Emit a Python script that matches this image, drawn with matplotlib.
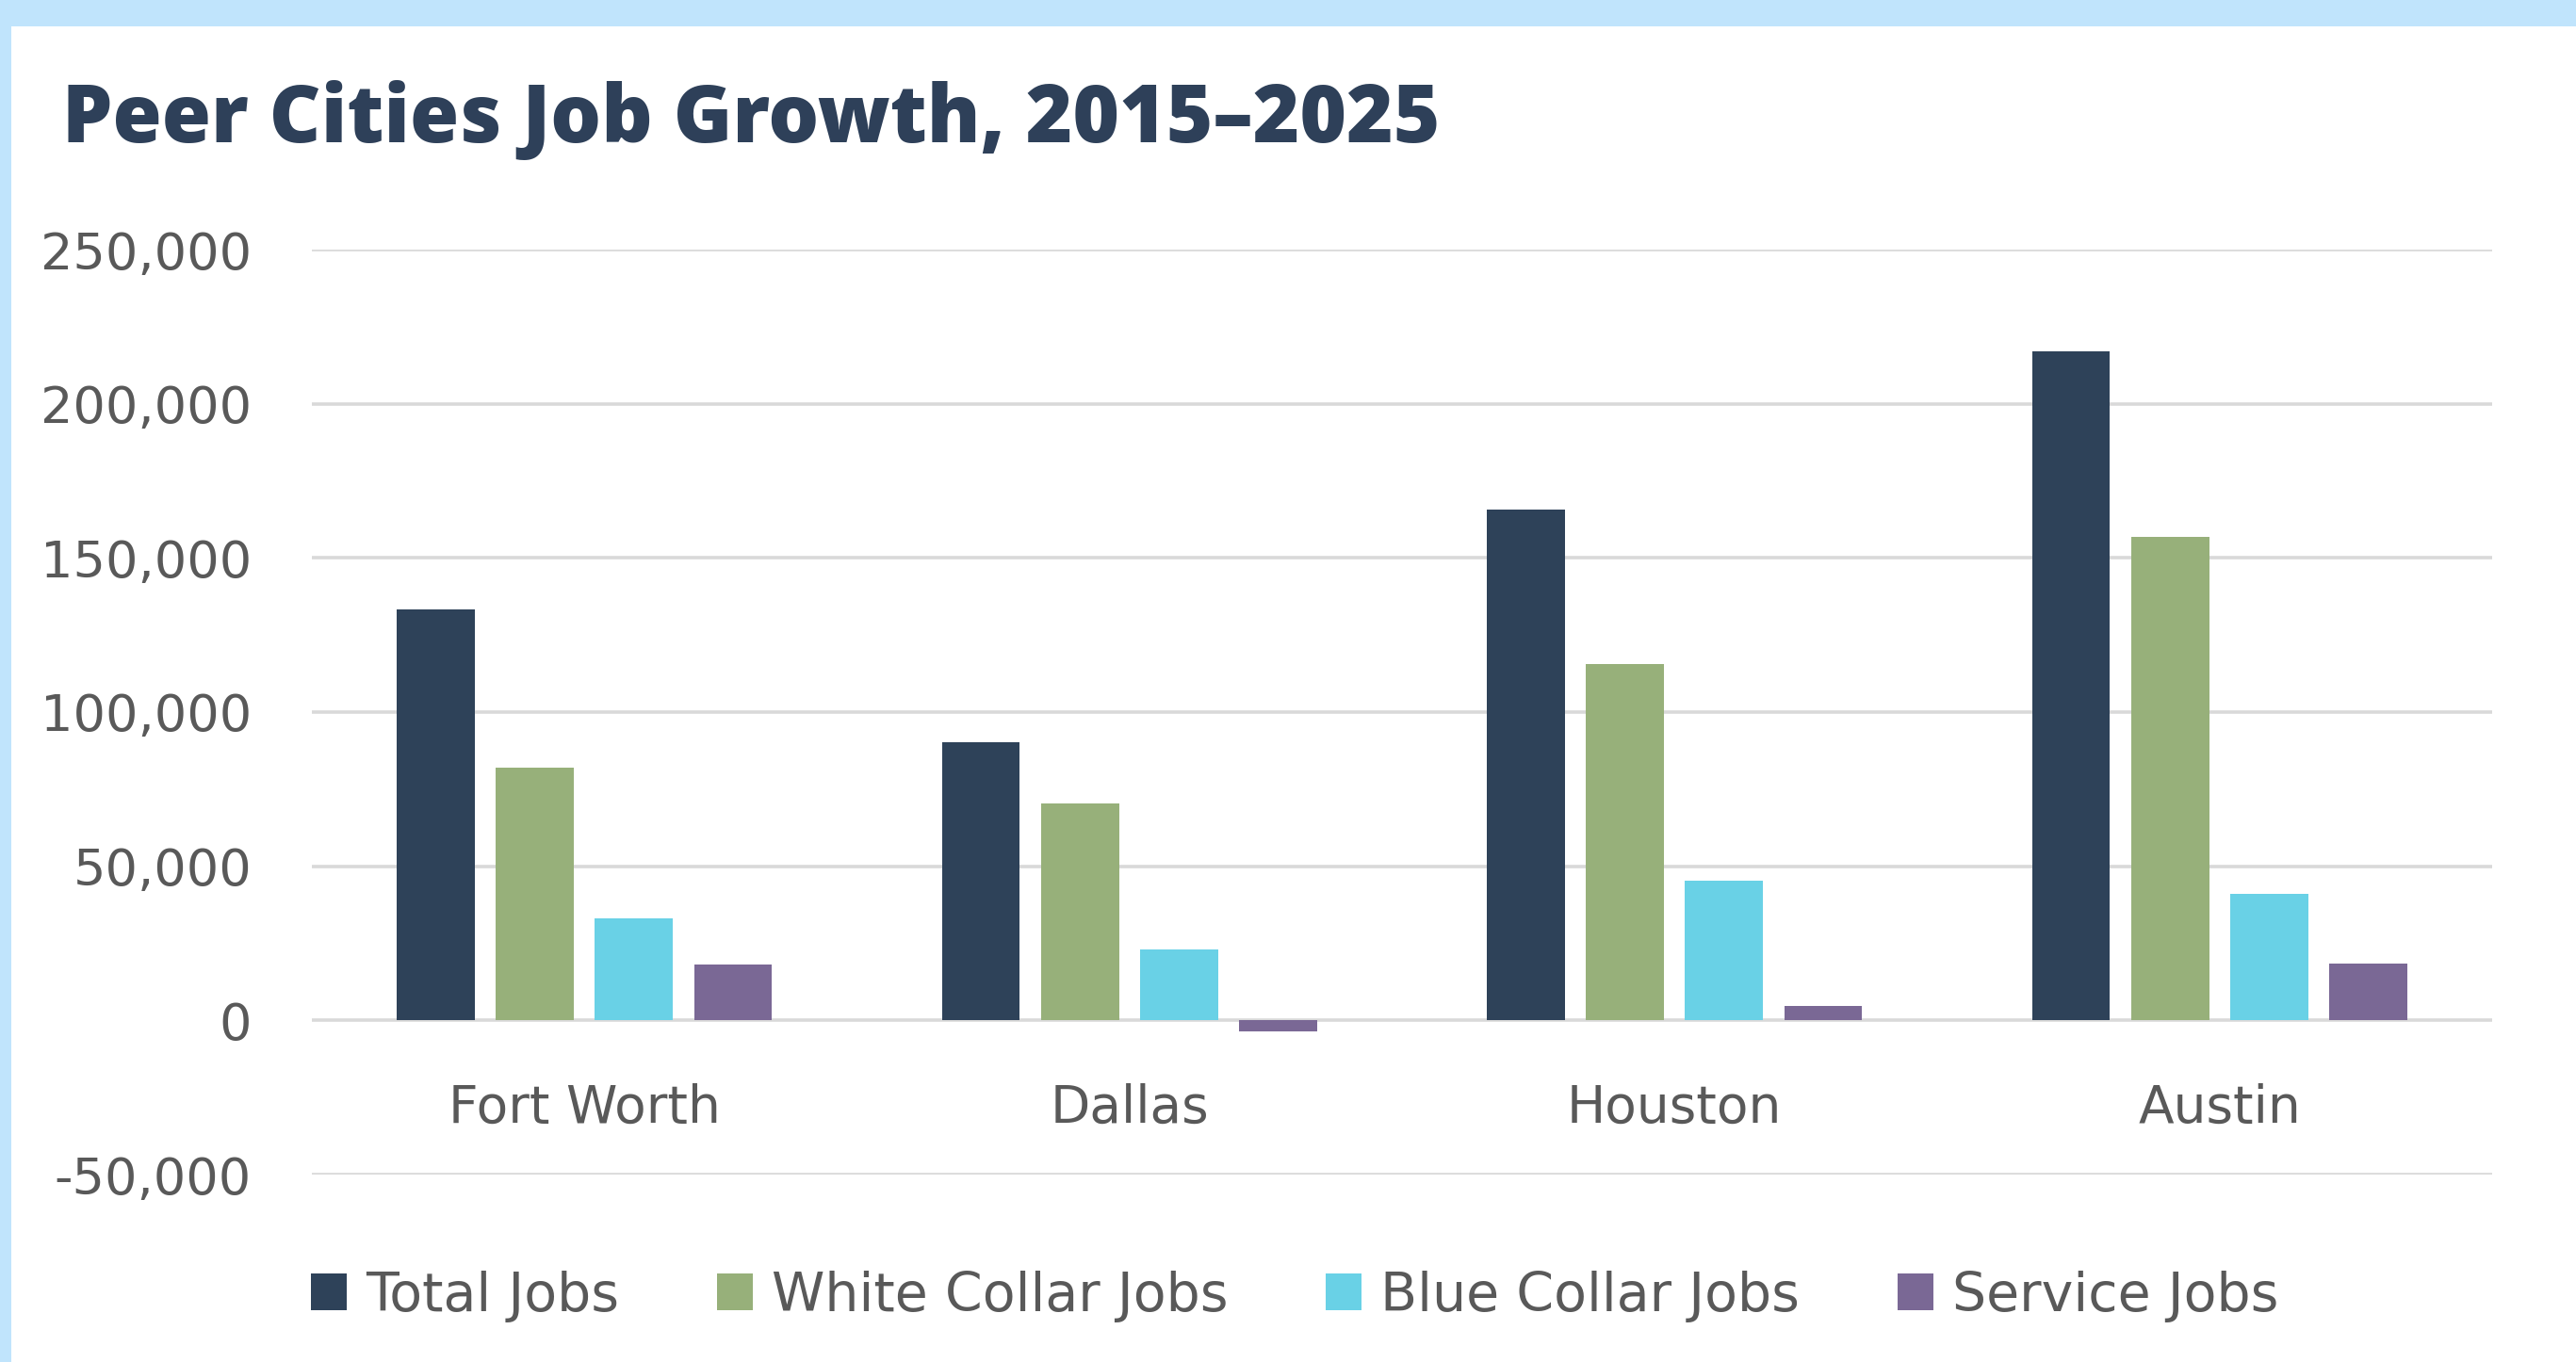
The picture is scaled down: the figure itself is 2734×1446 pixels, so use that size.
import numpy as np
import matplotlib
matplotlib.use('Agg')
import matplotlib.pyplot as plt
from matplotlib.patches import Rectangle, Patch

# --- Data ---
cities = ['Fort Worth', 'Dallas', 'Houston', 'Austin']
series = ['Total Jobs', 'White Collar Jobs', 'Blue Collar Jobs', 'Service Jobs']
total_jobs = [133300, 90100, 165800, 217000]
white_collar = [82100, 70400, 115700, 156900]
blue_collar = [33000, 22900, 45300, 41000]
service_jobs = [18100, -3700, 4800, 18500]
y_ticks = [-50000, 0, 50000, 100000, 150000, 200000, 250000]

COLORS = ['#2E4259', '#97B07A', '#69D1E6', '#7A6895']
TEXT = '#595959'
TITLE = '#2E4059'
BG = '#C0E4FC'

plt.rcParams.update({
    'font.family': ['DejaVu Sans'],
    'font.size': 19.5,
})

W, H = 2734, 1446
fig = plt.figure(figsize=(W / 200, H / 200), dpi=200)
fig.patch.set_facecolor(BG)

# white card behind everything
fig.patches.append(Rectangle((12 / W, 0), 1, 1 - 28 / H, transform=fig.transFigure,
                             facecolor='white', edgecolor='none', zorder=-10))

fig.text(66 / W, 1 - 151 / H, 'Peer Cities Job Growth, 2015\u20132025',
         fontsize=30.5, fontweight='heavy', color=TITLE, va='baseline', ha='left',
         family=['Open Sans', 'DejaVu Sans'])

ax = fig.add_axes([331 / W, 1 - 1247 / H, 2314 / W, 982 / H])
ax.set_facecolor('none')

x = np.arange(len(cities))
step = 0.1817
width = 0.143
data = [total_jobs, white_collar, blue_collar, service_jobs]
for i, (vals, c) in enumerate(zip(data, COLORS)):
    ax.bar(x + (i - 1.5) * step, vals, width, color=c, edgecolor='none', zorder=3)

ax.set_xlim(-0.5, len(cities) - 0.5)
ax.set_ylim(-50000, 250000)
ax.set_yticks(y_ticks)
ax.set_yticklabels([f'{v:,}' for v in y_ticks])
ax.yaxis.grid(True, color='#D9D9D9', linewidth=1.3, zorder=0)
ax.tick_params(axis='y', length=0, pad=23, labelcolor=TEXT, labelsize=19.5)
ax.set_xticks([])
for s in ax.spines.values():
    s.set_visible(False)

for xi, name in zip(x, cities):
    ax.text(xi, -28500, name, ha='center', va='center', color=TEXT, fontsize=19.8)

handles = [Patch(facecolor=c, edgecolor='none', label=s) for c, s in zip(COLORS, series)]
fig.legend(handles=handles, loc='center left', bbox_to_anchor=(330 / W, 1 - 1376 / H),
           ncol=4, frameon=False, fontsize=20.5, labelcolor=TEXT,
           handlelength=0.67, handleheight=0.67, handletextpad=0.35,
           columnspacing=1.82, borderaxespad=0, borderpad=0)

fig.savefig('out.png', dpi=200, facecolor=BG)
